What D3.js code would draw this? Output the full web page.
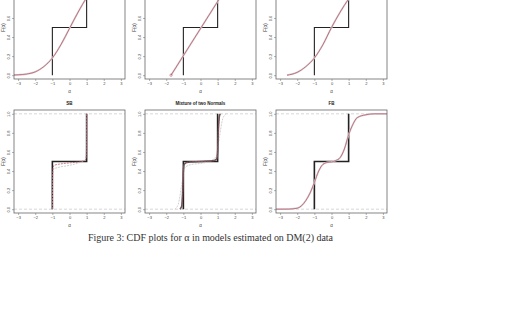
<!DOCTYPE html>
<html>
<head>
<meta charset="utf-8">
<script src="https://cdn.jsdelivr.net/npm/d3@7"></script>
<style>
  body { margin: 0; background: #fff; }
  svg { display: block; }
</style>
</head>
<body>
<div id="chart"></div>
<script>
// tick labels
const xTicks = [-3, -2, -1, 0, 1, 2, 3];
const yTicks = [0, 0.2, 0.4, 0.6, 0.8, 1];
const panelTitles = ["", "", "", "SB", "Mixture of two Normals", "FB"];

// true CDF (mass at -1 and 1)
const stepX = [-1, -1, 1, 1];
const stepY = [0, 0.5, 0.5, 1];

// estimated CDFs
const normX = [-3.24, -3, -2.5, -2, -1.5, -1, -0.5, 0, 0.5, 1, 1.5];
const normY = [0.002, 0.004, 0.012, 0.035, 0.09, 0.18, 0.32, 0.49, 0.66, 0.81, 0.91];

const unifX = [-1.72, 1.8];
const unifY = [0, 1];

const triX = [-2.6, -2, -1.5, -1, -0.5, 0, 0.5, 1, 1.5, 2];
const triY = [0, 0.03, 0.09, 0.18, 0.32, 0.5, 0.66, 0.8, 0.92, 0.98];

const sbX = [-1, -1, -0.995, -0.97, -0.9, -0.5, 0, 0.5, 0.9, 0.97, 0.995, 1, 1];
const sbY = [0, 0.1, 0.3, 0.42, 0.46, 0.475, 0.485, 0.495, 0.51, 0.54, 0.65, 0.9, 1];
const sbGreyX = [-1, -0.98, -0.93, -0.6, 0, 0.6, 0.93, 0.98, 1];
const sbGreyY = [0, 0.3, 0.42, 0.44, 0.46, 0.49, 0.52, 0.58, 1];

const mixX = [-1.2, -1.1, -1.05, -1, -0.95, -0.8, 0, 0.8, 0.95, 1, 1.05, 1.1, 1.15];
const mixY = [0, 0.03, 0.15, 0.4, 0.47, 0.49, 0.5, 0.51, 0.53, 0.6, 0.85, 0.97, 1];
const mixGreyX = [-1.5, -1.3, -1.1, -0.9, -0.5, 0, 0.5, 0.9, 1.1, 1.3, 1.5];
const mixGreyY = [0, 0.05, 0.25, 0.44, 0.47, 0.48, 0.5, 0.55, 0.75, 0.95, 1];

const fbX = [-3.24, -2.5, -2, -1.5, -1.25, -1, -0.75, -0.5, -0.25, 0, 0.25, 0.5, 0.75, 1, 1.25, 1.5, 2, 2.5, 3.24];
const fbY = [0, 0.001, 0.01, 0.09, 0.17, 0.28, 0.4, 0.47, 0.49, 0.495, 0.51, 0.54, 0.63, 0.78, 0.89, 0.96, 0.99, 1, 1];

const zip = (xs, ys) => xs.map((x, i) => ({ x: x, y: ys[i] }));

const panels = [
  { est: zip(normX, normY), band: zip(normX, normY) },
  { est: zip(unifX, unifY), band: zip(unifX, unifY), dot: true },
  { est: zip(triX, triY), band: zip(triX, triY) },
  { est: zip(sbX, sbY), grey: zip(sbGreyX, sbGreyY), dashes: true },
  { est: zip(mixX, mixY), dark: zip(mixX, mixY), grey: zip(mixGreyX, mixGreyY), dashes: true },
  { est: zip(fbX, fbY), band: zip(fbX, fbY), dashes: true }
];

const width = 506, height = 335;
const boxW = 111, boxH = 103;
const colLeft = [14, 145, 276];
const rowTop = [-24, 110];

const svg = d3.select('#chart')
  .append('svg')
  .attr('width', width)
  .attr('height', height);

panels.forEach((p, i) => {
  const left = colLeft[i % 3];
  const top = rowTop[Math.floor(i / 3)];

  const x = d3.scaleLinear().domain([-3.24, 3.24]).range([left, left + boxW]);
  const y = d3.scaleLinear().domain([-0.04, 1.04]).range([top + boxH, top]);

  const g = svg.append('g');

  // dashed reference lines at 0 and 1
  if (p.dashes) {
    [0, 1].forEach(v => {
      g.append('line')
        .attr('x1', left).attr('x2', left + boxW)
        .attr('y1', y(v)).attr('y2', y(v))
        .attr('stroke', '#bbb')
        .attr('stroke-width', 0.6)
        .attr('stroke-dasharray', '3,2');
    });
  }

  const line = d3.line().x(d => x(d.x)).y(d => y(d.y)).curve(d3.curveMonotoneX);
  const straight = d3.line().x(d => x(d.x)).y(d => y(d.y));

  // true step CDF
  g.append('path')
    .attr('d', straight(zip(stepX, stepY)))
    .attr('fill', 'none')
    .attr('stroke', '#222')
    .attr('stroke-width', i < 3 ? 1.1 : 1.6);

  if (p.band) {
    g.append('path')
      .attr('d', line(p.band))
      .attr('fill', 'none')
      .attr('stroke', '#d6d6d6')
      .attr('stroke-width', 1.8);
  }
  if (p.grey) {
    g.append('path')
      .attr('d', line(p.grey))
      .attr('fill', 'none')
      .attr('stroke', '#c4c4c4')
      .attr('stroke-width', 0.8)
      .attr('stroke-dasharray', '2,1');
  }
  if (p.dark) {
    g.append('path')
      .attr('d', line(p.dark))
      .attr('fill', 'none')
      .attr('stroke', '#555')
      .attr('stroke-width', 1.5);
  }

  g.append('path')
    .attr('d', line(p.est))
    .attr('fill', 'none')
    .attr('stroke', '#b8465c')
    .attr('stroke-width', 0.7)
    .attr('stroke-dasharray', i < 3 || i == 5 ? null : '2,1');

  if (p.dot) {
    g.append('circle')
      .attr('cx', x(p.est[0].x)).attr('cy', y(p.est[0].y))
      .attr('r', 1.2)
      .attr('fill', 'none')
      .attr('stroke', '#b8465c')
      .attr('stroke-width', 0.5);
  }

  // box
  g.append('rect')
    .attr('x', left).attr('y', top)
    .attr('width', boxW).attr('height', boxH)
    .attr('fill', 'none')
    .attr('stroke', '#666')
    .attr('stroke-width', 0.8);

  // x axis
  const xa = g.append('g')
    .attr('transform', `translate(0,${top + boxH})`)
    .call(d3.axisBottom(x).tickValues(xTicks).tickSize(2).tickPadding(1.5).tickFormat(d3.format('d')));
  xa.select('.domain').remove();
  xa.selectAll('line').attr('stroke', '#666').attr('stroke-width', 0.5);
  xa.selectAll('text').style('font-size', '4px').style('font-family', 'Liberation Sans, sans-serif').attr('fill', '#444');

  // y axis, labels parallel to axis; skip labels that fall fully above the page
  const shownY = yTicks.filter(v => y(v) > -1);
  const ya = g.append('g')
    .attr('transform', `translate(${left},0)`)
    .call(d3.axisLeft(y).tickValues(shownY).tickSize(2).tickFormat(d3.format('.1f')));
  ya.select('.domain').remove();
  ya.selectAll('line').attr('stroke', '#666').attr('stroke-width', 0.5);
  ya.selectAll('text')
    .attr('x', null).attr('dy', null)
    .attr('text-anchor', 'middle')
    .attr('transform', 'translate(-4,0) rotate(-90)')
    .style('font-size', '4px')
    .style('font-family', 'Liberation Sans, sans-serif')
    .attr('fill', '#444');

  // axis labels
  g.append('text')
    .text('α')
    .attr('x', left + boxW / 2)
    .attr('y', top + boxH + 14)
    .attr('text-anchor', 'middle')
    .style('font-size', '4.5px')
    .style('font-family', 'Liberation Sans, sans-serif')
    .attr('fill', '#444');

  g.append('text')
    .text('F(α)')
    .attr('transform', `translate(${left - 9},${top + boxH / 2}) rotate(-90)`)
    .attr('text-anchor', 'middle')
    .style('font-size', '4.5px')
    .style('font-family', 'Liberation Sans, sans-serif')
    .attr('fill', '#444');

  if (panelTitles[i]) {
    g.append('text')
      .text(panelTitles[i])
      .attr('x', left + boxW / 2)
      .attr('y', top - 5)
      .attr('text-anchor', 'middle')
      .style('font-size', '4.5px')
      .style('font-weight', 'bold')
      .style('font-family', 'Liberation Sans, sans-serif')
      .attr('fill', '#222');
  }
});

// caption
svg.append('text')
  .text('Figure 3: CDF plots for α in models estimated on DM(2) data')
  .attr('x', 88)
  .attr('y', 241)
  .style('font-size', '10px')
  .style('font-family', 'Liberation Serif, serif')
  .attr('fill', '#333')
  .attr('textLength', 245)
  .attr('lengthAdjust', 'spacing');
</script>
</body>
</html>
